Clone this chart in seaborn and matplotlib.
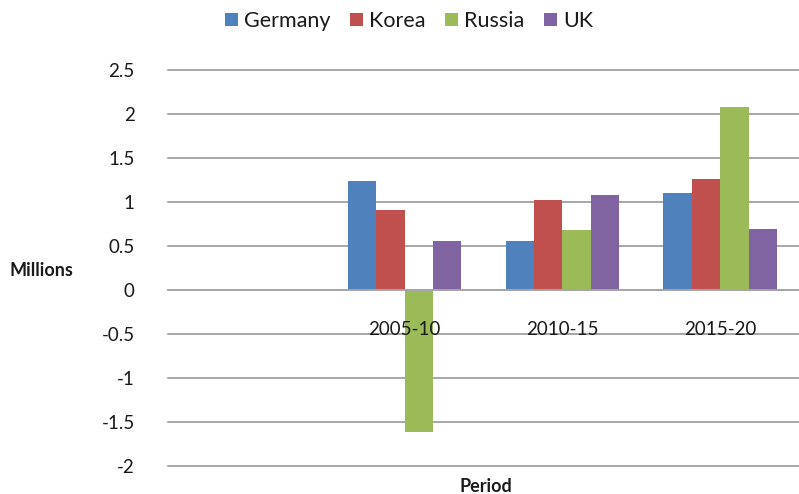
import matplotlib
matplotlib.use("Agg")
import matplotlib.pyplot as plt
import matplotlib.transforms as mtransforms
import seaborn as sns
import pandas as pd
from matplotlib.patches import Patch

# Net change by period, millions
periods = ["2005-10", "2010-15", "2015-20"]
axis_order = [""] + periods          # first slot is left empty
countries = ["Germany", "Korea", "Russia", "UK"]
germany = [1.24, 0.56, 1.10]
korea = [0.91, 1.02, 1.26]
russia = [-1.62, 0.68, 2.08]
uk = [0.56, 1.08, 0.69]
y_ticks = [-2, -1.5, -1, -0.5, 0, 0.5, 1, 1.5, 2, 2.5]
y_tick_labels = ["-2", "-1.5", "-1", "-0.5", "0", "0.5", "1", "1.5", "2", "2.5"]

colors = ["#4F81BD", "#C0504D", "#9BBB59", "#8064A2"]
text_color = "#1a1a1a"

rows = []
for name, vals in zip(countries, [germany, korea, russia, uk]):
    for p, v in zip(periods, vals):
        rows.append({"Period": p, "Country": name, "Millions": v})
df = pd.DataFrame(rows)

sns.set_style("white")
plt.rcParams["font.family"] = ["Lato", "DejaVu Sans"]

fig = plt.figure(figsize=(7.99, 4.94), dpi=100)
ax = fig.add_axes([0.2103, 0.057, 0.7897, 0.801])

sns.barplot(data=df, x="Period", y="Millions", hue="Country", order=axis_order,
            hue_order=countries, palette=colors, width=0.72, saturation=1,
            errorbar=None, ax=ax, legend=False, edgecolor="none")

ax.set_xlim(-0.5, 3.5)
ax.set_ylim(-2, 2.5)
ax.set_yticks(y_ticks)
ax.set_yticklabels(y_tick_labels)
ax.yaxis.grid(True, color="#a6a6a6", linewidth=1.4)
ax.set_axisbelow(True)
for g in ax.get_ygridlines():
    g.set_clip_on(False)

for s in ["left", "right", "top"]:
    ax.spines[s].set_visible(False)
ax.spines["bottom"].set_position(("data", 0))
ax.spines["bottom"].set_color("#a6a6a6")
ax.spines["bottom"].set_linewidth(1.4)

# category boundaries get the small tick marks; names are written on top of the bars
ax.set_xticks(range(len(axis_order)))
ax.set_xticklabels([])
ax.set_xticks([-0.5, 0.5, 1.5, 2.5, 3.5], minor=True)
ax.tick_params(axis="x", which="major", length=0)
ax.tick_params(axis="x", which="minor", length=5, width=1.2, color="#a6a6a6", direction="out")
ax.tick_params(axis="y", length=0, pad=24, labelsize=13.5, colors=text_color)

offset = mtransforms.ScaledTranslation(0, -40 / 100, fig.dpi_scale_trans)
for i, name in enumerate(axis_order):
    ax.text(i, 0, name, transform=ax.transData + offset, ha="center", va="center",
            fontsize=13.5, color=text_color, zorder=10)

ax.set_xlabel("")
ax.set_ylabel("")
fig.text(0.012, 0.453, "Millions", fontsize=13, fontweight="bold", color=text_color,
         ha="left", va="center")
fig.text(0.608, 0.016, "Period", fontsize=13, fontweight="bold", color=text_color,
         ha="center", va="center")

handles = [Patch(facecolor=c, edgecolor="none") for c in colors]
fig.legend(handles, countries, loc="center", bbox_to_anchor=(0.512, 0.957), ncol=4,
           frameon=False, fontsize=15.5, handlelength=0.6, handleheight=0.6,
           handletextpad=0.3, columnspacing=0.9, labelcolor=text_color)

fig.savefig("out.png", dpi=100)
